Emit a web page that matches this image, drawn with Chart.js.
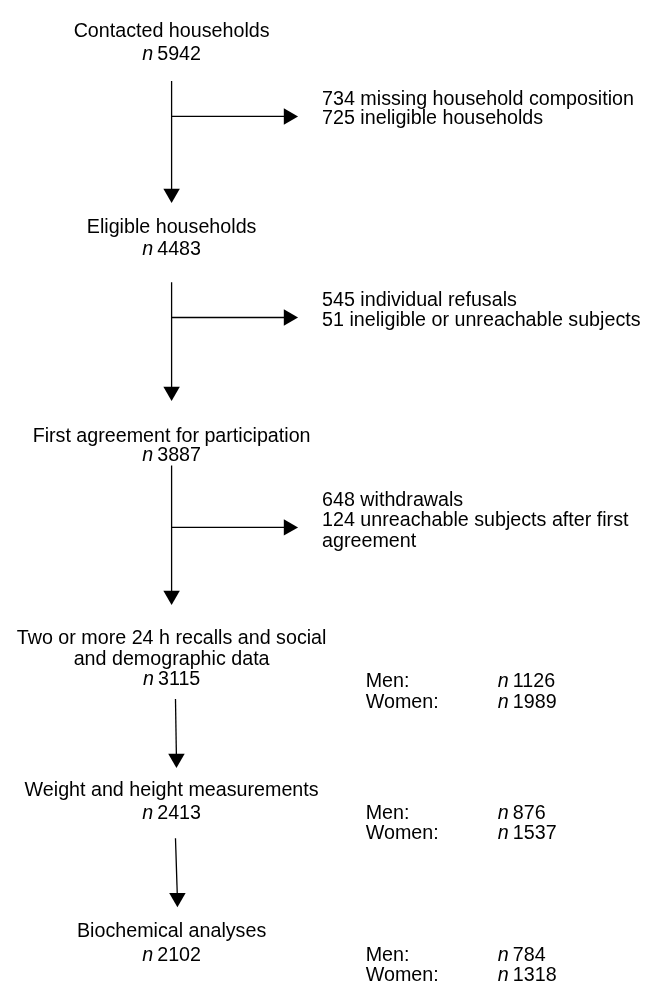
<!DOCTYPE html>
<html>
<head>
<meta charset="utf-8">
<script src="https://cdn.jsdelivr.net/npm/chart.js@4.4.1/dist/chart.umd.min.js"></script>
<style>
  html, body { margin: 0; padding: 0; background: #fff; }
  #wrap { width: 647px; height: 992px; }
</style>
</head>
<body>
<div id="wrap"><canvas id="flow" width="647" height="992"></canvas></div>
<script>
// flow chart content
const stageTitles = [
    ['Contacted households'],
    ['Eligible households'],
    ['First agreement for participation'],
    ['Two or more 24 h recalls and social', 'and demographic data'],
    ['Weight and height measurements'],
    ['Biochemical analyses']
];
const stageN = [5942, 4483, 3887, 3115, 2413, 2102];
const exclusionLines = [
    ['734 missing household composition', '725 ineligible households'],
    ['545 individual refusals', '51 ineligible or unreachable subjects'],
    ['648 withdrawals', '124 unreachable subjects after first', 'agreement']
];
const sexLabels = ['Men:', 'Women:'];
const menN = [1126, 876, 784];
const womenN = [1989, 1537, 1318];

// layout (page units, y grows downward)
const colX = 167;
const sideX = 322;
const sexLabelX = 367;
const sexValueX = 503;
const titleBaselines = [[28], [228], [441], [647, 668], [802], [946]];
const nBaselines = [51, 250, 460, 689, 825, 970];
const downArrows = [[167, 73, 167, 197], [167, 278, 167, 399], [167, 465, 167, 607], [171, 703, 172, 773], [171, 845, 173, 915]];
const sideArrows = [[167, 109, 297], [167, 314, 297], [167, 528, 297]];
const sideBaselines = [[97, 117], [302, 323], [506, 527, 548]];
const sexBaselines = [[691, 712], [825, 846], [970, 990]];

const headR = 9.5;
const FONT = '"Liberation Sans", Arial, sans-serif';
const FONT_SIZE = 19.7;

// shafts
var datasets = [];
downArrows.forEach(function (a) {
    datasets.push({
        data: [{x: a[0], y: a[1]}, {x: a[2], y: a[3] - 8}],
        showLine: true, borderColor: '#000', borderWidth: 1.3,
        pointRadius: 0
    });
});
sideArrows.forEach(function (a) {
    datasets.push({
        data: [{x: a[0], y: a[1]}, {x: a[2] - 8, y: a[1]}],
        showLine: true, borderColor: '#000', borderWidth: 1.3,
        pointRadius: 0
    });
});

// arrow heads (triangle point style, centroid sits headR behind the tip)
var heads = [], rots = [];
downArrows.forEach(function (a) {
    heads.push({x: a[2], y: a[3] - headR});
    rots.push(180);
});
sideArrows.forEach(function (a) {
    heads.push({x: a[2] - headR, y: a[1]});
    rots.push(90);
});
datasets.push({
    data: heads,
    showLine: false,
    pointStyle: 'triangle',
    rotation: rots,
    pointRadius: headR,
    backgroundColor: '#000',
    borderColor: '#000',
    borderWidth: 0
});

// draws "n 1234" with italic n
function drawN(ctx, value, x, y, align) {
    ctx.font = 'italic ' + FONT_SIZE + 'px ' + FONT;
    var wn = ctx.measureText('n').width;
    ctx.font = FONT_SIZE + 'px ' + FONT;
    var gap = ctx.measureText(' ').width * 0.75;
    var num = String(value);
    var wv = ctx.measureText(num).width;
    var start = align === 'center' ? x - (wn + gap + wv) / 2 : x;
    ctx.textAlign = 'left';
    ctx.font = 'italic ' + FONT_SIZE + 'px ' + FONT;
    ctx.fillText('n', start, y);
    ctx.font = FONT_SIZE + 'px ' + FONT;
    ctx.fillText(num, start + wn + gap, y);
}

const textPlugin = {
    id: 'flowText',
    afterDraw: function (chart) {
        var ctx = chart.ctx;
        var sx = chart.scales.x, sy = chart.scales.y;
        ctx.save();
        ctx.fillStyle = '#000';
        ctx.textBaseline = 'alphabetic';
        ctx.font = FONT_SIZE + 'px ' + FONT;

        stageTitles.forEach(function (lines, i) {
            lines.forEach(function (t, j) {
                ctx.font = FONT_SIZE + 'px ' + FONT;
                ctx.textAlign = 'center';
                ctx.fillText(t, sx.getPixelForValue(colX), sy.getPixelForValue(titleBaselines[i][j]));
            });
            drawN(ctx, stageN[i], sx.getPixelForValue(colX), sy.getPixelForValue(nBaselines[i]), 'center');
        });

        exclusionLines.forEach(function (lines, i) {
            lines.forEach(function (t, j) {
                ctx.font = FONT_SIZE + 'px ' + FONT;
                ctx.textAlign = 'left';
                ctx.fillText(t, sx.getPixelForValue(sideX), sy.getPixelForValue(sideBaselines[i][j]));
            });
        });

        menN.forEach(function (m, i) {
            var vals = [m, womenN[i]];
            sexLabels.forEach(function (lab, j) {
                var y = sy.getPixelForValue(sexBaselines[i][j]);
                ctx.font = FONT_SIZE + 'px ' + FONT;
                ctx.textAlign = 'left';
                ctx.fillText(lab, sx.getPixelForValue(sexLabelX), y);
                drawN(ctx, vals[j], sx.getPixelForValue(sexValueX), y, 'left');
            });
        });
        ctx.restore();
    }
};

new Chart(document.getElementById('flow').getContext('2d'), {
    type: 'scatter',
    data: { datasets: datasets },
    options: {
        responsive: false,
        animation: false,
        layout: { padding: 0 },
        scales: {
            x: { type: 'linear', min: 0, max: 647, display: false },
            y: { type: 'linear', min: 0, max: 992, reverse: true, display: false }
        },
        plugins: {
            legend: { display: false },
            tooltip: { enabled: false }
        }
    },
    plugins: [textPlugin]
});
</script>
</body>
</html>
